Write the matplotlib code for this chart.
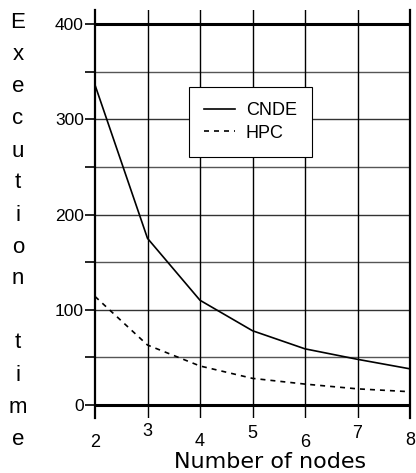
import matplotlib
matplotlib.use("Agg")
import matplotlib.pyplot as plt

plt.rcParams['font.family'] = ['Liberation Sans', 'DejaVu Sans']

# data
nodes = [2, 3, 4, 5, 6, 7, 8]
cnde = [336, 175, 110, 78, 59, 48, 38]
hpc = [114, 63, 41, 28, 22, 17, 14]
y_ticks = [0, 100, 200, 300, 400]
y_minor = [50, 150, 250, 350]
x_label_dy = [442, 431, 441, 434, 442, 434, 440]   # labels are staggered in the original
ylabel_txt = "Execution time"

W, H = 416, 473
fig = plt.figure(figsize=(W / 100, H / 100), dpi=100)
ax = fig.add_axes([95 / W, 1 - 418 / H, 315 / W, 408 / H])
ax.set_xlim(2, 8)
ax.set_ylim(-13.6, 414.7)

# grid
for v in y_minor:
    ax.axhline(v, color='#555555', lw=1.0, zorder=1)
for v in [100, 200, 300]:
    ax.axhline(v, color='#333333', lw=1.0, zorder=1)
for v in [0, 400]:
    ax.axhline(v, color='black', lw=2.2, zorder=2)
for n in nodes[1:-1]:
    ax.axvline(n, color='black', lw=1.0, zorder=1)

ax.plot(nodes, cnde, color='black', lw=1.2, label='CNDE', zorder=3)
ax.plot(nodes, hpc, color='black', lw=1.2, ls=(0, (3, 3)), label='HPC', zorder=3)

for s in ['top', 'bottom']:
    ax.spines[s].set_visible(False)
for s in ['left', 'right']:
    ax.spines[s].set_linewidth(1.6)

ax.set_yticks(y_ticks)
ax.set_yticks(y_minor, minor=True)
ax.set_yticklabels([str(v) for v in y_ticks], fontsize=12.5)
ax.tick_params(axis='y', which='both', direction='out', length=7, width=1.2, pad=1)
ax.set_xticks([])

for n, yy in zip(nodes, x_label_dy):
    x_fig = ax.transData.transform((n, 0))[0] / W
    fig.text(x_fig, 1 - yy / H, str(n), ha='center', va='center', fontsize=13)

fig.text(270 / W, 1 - 468 / H, "Number of nodes", ha='center', va='baseline',
         fontsize=16, family='DejaVu Sans')

# vertical stacked y label
row = 0
for ch in ylabel_txt:
    if ch != ' ':
        fig.text(18 / W, 1 - (23 + 32 * row) / H, ch, ha='center', va='center', fontsize=16)
    row += 1

leg = ax.legend(loc='upper left', bbox_to_anchor=(189 / W, 1 - 87 / H),
                bbox_transform=fig.transFigure, borderaxespad=0, fancybox=False,
                edgecolor='black', framealpha=1, fontsize=13, handlelength=1.7,
                borderpad=0.85, labelspacing=0.3, handletextpad=0.6)
leg.get_frame().set_linewidth(0.8)

fig.savefig("out.png", dpi=100)
